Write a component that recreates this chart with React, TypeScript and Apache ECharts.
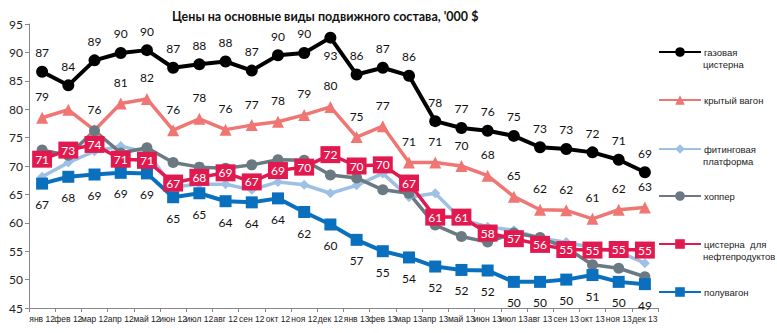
import React, { useEffect, useRef } from "react";
import * as echarts from "echarts";

const categories = [
  "янв 12", "фев 12", "мар 12", "апр 12", "май 12", "июн 12", "июл 12", "авг 12", "сен 12", "окт 12", "ноя 12", "дек 12",
  "янв 13", "фев 13", "мар 13", "апр 13", "май 13", "июн 13", "июл 13", "авг 13", "сен 13", "окт 13", "ноя 13", "дек 13",
];

const gasTank = [86.6, 84.2, 88.6, 89.9, 90.4, 87.3, 87.9, 88.4, 86.8, 89.5, 89.9, 92.6, 86.1, 87.3, 85.9, 77.9, 76.7, 76.2, 75.3, 73.3, 73.0, 72.4, 71.1, 68.9];
const coveredWagon = [78.5, 79.9, 76.3, 81.0, 81.8, 76.3, 78.3, 76.4, 77.2, 77.8, 79.0, 80.4, 75.1, 77.0, 70.6, 70.6, 70.0, 68.3, 64.6, 62.3, 62.2, 60.7, 62.3, 62.7];
const flatcar = [68.1, 70.6, 72.6, 73.5, 72.4, 66.3, 66.8, 66.8, 65.8, 67.2, 66.7, 65.2, 66.6, 68.7, 64.5, 65.2, 60.6, 59.3, 58.7, 57.3, 56.6, 55.6, 54.9, 52.9];
const hopper = [72.8, 71.9, 76.2, 72.3, 73.2, 70.6, 69.8, 69.6, 70.2, 71.1, 71.0, 68.4, 67.9, 65.8, 65.2, 59.6, 57.6, 56.6, 58.2, 57.4, 55.6, 52.6, 52.0, 50.5];
const oilTank = [71.2, 72.8, 73.8, 71.2, 71.0, 67.0, 68.0, 68.8, 67.2, 69.2, 69.8, 72.0, 70.0, 70.2, 67.0, 61.0, 61.0, 58.2, 57.2, 56.2, 55.3, 55.2, 55.3, 55.2];
const gondola = [66.9, 68.1, 68.5, 68.8, 68.7, 64.5, 65.2, 63.8, 63.6, 64.3, 61.9, 59.7, 57.0, 55.0, 53.9, 52.3, 51.7, 51.6, 49.6, 49.6, 50.0, 50.8, 49.6, 49.2];

const seriesNames = [
  "газовая цистерна",
  "крытый вагон",
  "фитинговая платформа",
  "хоппер",
  "цистерна  для нефтепродуктов",
  "полувагон",
];
const legendFirstLines = ["газовая", "крытый вагон", "фитинговая", "хоппер", "цистерна  для", "полувагон"];
const legendSecondLines = ["цистерна", "", "платформа", "", "нефтепродуктов", ""];

const colors = ["#000000", "#EF7672", "#9DC0E6", "#6A7982", "#E2194F", "#0A70BE"];
const FONT = "Lato, 'Liberation Sans', sans-serif";

export default function App() {
  const ref = useRef<HTMLDivElement>(null);
  useEffect(() => {
    if (!ref.current) return;
    const chart = echarts.init(ref.current, undefined, { renderer: "svg" });
    const labelBase = { show: true, fontFamily: FONT, fontSize: 12, color: "#111" };
    const legendTops = [53, 101, 150, 197, 245, 293];
    const legends = seriesNames.map((n, i) => ({
      data: [n],
      left: 658,
      top: legendTops[i] - 6,
      orient: "vertical",
      itemWidth: 42,
      itemHeight: 12,
      itemGap: 0,
      padding: 0,
      selectedMode: false,
      formatter: () => legendFirstLines[i],
      textStyle: { fontFamily: "'Liberation Sans', Arial, sans-serif", fontSize: 9.5, color: "#222", padding: [0, 0, 0, -2] },
    }));
    const graphics = legendSecondLines
      .map((t, i) => ({ t, i }))
      .filter((d) => d.t)
      .map((d) => ({
        type: "text",
        left: 703,
        top: legendTops[d.i] + 6,
        style: { text: d.t, fontFamily: "'Liberation Sans', Arial, sans-serif", fontSize: 9.5, fill: "#222" },
      }));

    chart.setOption({
      animation: false,
      title: {
        text: "Цены на основные виды подвижного состава, '000 $",
        left: 167,
        top: 5,
        textStyle: { fontFamily: FONT, fontSize: 12.5, fontWeight: "bold", color: "#111" },
      },
      legend: legends,
      graphic: graphics,
      grid: { left: 29, right: 119, top: 24, bottom: 25, containLabel: false },
      xAxis: {
        type: "category",
        data: categories,
        boundaryGap: true,
        axisLine: { lineStyle: { color: "#888" } },
        axisTick: { show: true, length: 4, lineStyle: { color: "#888" } },
        axisLabel: { interval: 0, fontFamily: "'Liberation Sans', Arial, sans-serif", fontSize: 8.5, color: "#222", margin: 6 },
      },
      yAxis: {
        type: "value",
        min: 45,
        max: 95,
        interval: 5,
        axisLine: { show: true, lineStyle: { color: "#888" } },
        axisTick: { show: true, length: 4, lineStyle: { color: "#888" } },
        splitLine: { show: false },
        axisLabel: { fontFamily: FONT, fontSize: 12, color: "#222", margin: 6 },
      },
      series: [
        {
          name: seriesNames[0],
          type: "line",
          data: gasTank.map((v, i) => ({
            value: v,
            label: i === 11 ? { position: "bottom", distance: 6 } : undefined,
          })),
          symbol: "circle",
          symbolSize: 12,
          lineStyle: { width: 4, color: colors[0] },
          itemStyle: { color: colors[0] },
          label: { ...labelBase, position: "top", distance: 7, formatter: (p: any) => Math.round(p.value) },
          z: 2,
        },
        {
          name: seriesNames[1],
          type: "line",
          data: coveredWagon.map((v, i) => ({ value: v, label: i === 1 ? { show: false } : undefined })),
          symbol: "triangle",
          symbolSize: 12,
          lineStyle: { width: 3.5, color: colors[1] },
          itemStyle: { color: colors[1] },
          label: { ...labelBase, position: "top", distance: 9, formatter: (p: any) => Math.round(p.value) },
          z: 2,
        },
        {
          name: seriesNames[2],
          type: "line",
          data: flatcar,
          symbol: "diamond",
          symbolSize: 10,
          lineStyle: { width: 3.5, color: colors[2] },
          itemStyle: { color: colors[2] },
          z: 2,
        },
        {
          name: seriesNames[3],
          type: "line",
          data: hopper,
          symbol: "circle",
          symbolSize: 11,
          lineStyle: { width: 3.5, color: colors[3] },
          itemStyle: { color: colors[3] },
          z: 2,
        },
        {
          name: seriesNames[4],
          type: "line",
          data: oilTank,
          symbol: "rect",
          symbolSize: 10,
          lineStyle: { width: 3.5, color: colors[4] },
          itemStyle: { color: colors[4] },
          label: {
            ...labelBase,
            position: "inside",
            color: "#fff",
            backgroundColor: colors[4],
            padding: [3, 3, 2, 3],
            formatter: (p: any) => Math.round(p.value),
          },
          z: 3,
        },
        {
          name: seriesNames[5],
          type: "line",
          data: gondola,
          symbol: "rect",
          symbolSize: 12,
          lineStyle: { width: 4, color: colors[5] },
          itemStyle: { color: colors[5] },
          label: { ...labelBase, position: "bottom", distance: 9, formatter: (p: any) => Math.round(p.value) },
          z: 3,
        },
      ],
    });
    return () => chart.dispose();
  }, []);
  return <div ref={ref} style={{ width: 777, height: 333, position: "absolute", left: 0, top: 0, background: "#fff" }} />;
}
